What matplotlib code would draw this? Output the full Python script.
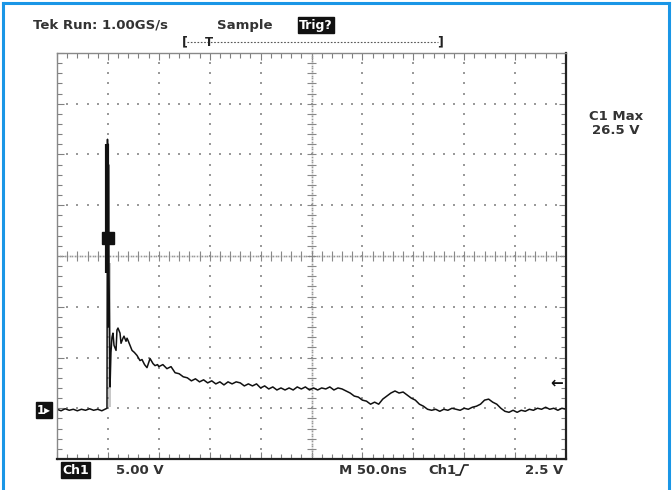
import numpy as np
import matplotlib.pyplot as plt

# scope settings (from screen text)
ns_per_div = 50.0
v_per_div = 5.0
trig_level = 2.5
v_max = 26.5

# trace: time (ns) / volts
t_ns = [0, 4, 8, 12, 16, 20, 24, 28, 32, 36, 40, 44, 47, 49.1,
        49.6, 50.1, 50.6, 51.1, 52.1, 53.0, 54.0, 55.0, 56.0, 58.0, 58.9, 59.9,
        61.9, 62.9, 64.8, 65.8, 67.8, 68.8, 69.7, 71.7, 73.7, 76.0, 78.6, 81.5,
        83.5, 86.0, 88.4, 91.4, 94.3, 96.3, 98.8,
        100, 104, 108, 112, 116, 120, 124, 128, 132, 136, 140, 144, 148, 152,
        156, 160, 164, 168, 172, 176, 180, 184, 188, 192, 196, 200, 204, 208,
        212, 216, 220, 224, 228, 232, 236, 240, 244, 248, 252, 256, 260, 264,
        268, 272, 276, 280, 284, 288, 292, 296, 300, 304, 308, 312, 316, 320,
        324, 328, 332, 336, 340, 344, 348, 352, 356, 360, 364, 368, 372, 376,
        380, 384, 388, 392, 396, 400, 404, 408, 412, 416, 420, 424, 428, 432,
        436, 440, 444, 448, 452, 456, 460, 464, 468, 472, 476, 480, 484, 488,
        492, 496, 500]
volts = [-0.1, -0.25, -0.05, -0.2, -0.1, -0.25, -0.1, -0.2, -0.05, -0.2, -0.1, -0.25, -0.1, 0.0,
         26.5, 8.0, 24.0, 13.3, 2.1, 5.5, 7.0, 7.4, 6.2, 5.7, 7.7, 7.9,
         7.4, 6.4, 6.9, 7.1, 6.6, 6.9, 6.7, 6.2, 5.7, 5.5, 5.2, 4.7,
         4.8, 4.3, 4.0, 4.9, 4.4, 4.2, 4.3,
         4.1, 4.3, 3.9, 4.1, 3.5, 3.4, 3.1, 3.0, 2.7, 2.9, 2.6, 2.8, 2.5, 2.7,
         2.4, 2.6, 2.3, 2.6, 2.4, 2.6, 2.5, 2.2, 2.4, 2.2, 2.4, 2.0, 2.2, 1.9,
         2.1, 1.8, 2.0, 1.8, 2.0, 1.8, 2.1, 1.9, 2.1, 1.8, 2.0, 1.8, 2.0, 1.9,
         2.1, 1.8, 2.0, 1.9, 1.7, 1.5, 1.2, 1.1, 0.8, 0.7, 0.4, 0.6, 0.4, 0.9,
         1.2, 1.5, 1.7, 1.5, 1.6, 1.3, 1.0, 0.8, 0.4, 0.2, -0.1, -0.2, -0.1, -0.3,
         -0.1, -0.2, 0.0, -0.1, -0.2, 0.0, -0.1, 0.1, 0.2, 0.4, 0.8, 0.9, 0.6, 0.4,
         0.0, -0.3, -0.4, -0.2, -0.4, -0.2, -0.3, -0.1, -0.2, 0.0, -0.1, 0.1, -0.1, 0.0,
         -0.2, 0.0, -0.1]

spike_t = 49.6
spike_thick = [13.3, 26.0]
glow_t = [50.1, 53.5]
glow_v = [0.1, 14.3]
marker_t = 50.1
marker_v = 16.8

fig = plt.figure(figsize=(6.72, 4.90), dpi=100)
ax = fig.add_axes([57 / 672, 31 / 490, 509 / 672, 406 / 490])
ax.set_xlim(0, 10 * ns_per_div)
ax.set_ylim(-1 * v_per_div, 7 * v_per_div)

# graticule
xmaj = np.arange(0, 501, ns_per_div)
ymaj = np.arange(-5, 36, v_per_div)
xmin = np.arange(0, 501, ns_per_div / 5)
ymin = np.arange(-5, 35.1, v_per_div / 5)
xc, yc = 250, 15
dot = '#9a9a9a'
for x in xmaj[1:-1]:
    if x == xc:
        continue
    ax.plot(np.full_like(ymin, x), ymin, ls='none', marker='s', ms=1.5, color=dot, mew=0)
for y in ymaj[1:-1]:
    if y == yc:
        continue
    ax.plot(xmin, np.full_like(xmin, y), ls='none', marker='s', ms=1.5, color=dot, mew=0)
# centre lines with ticks
ax.plot(np.arange(0, 501, 2.5), np.full(201, yc), ls='none', marker='s', ms=1.2, color=dot, mew=0)
ax.plot(np.full(161, xc), np.arange(-5, 35.1, 0.25), ls='none', marker='s', ms=1.2, color=dot, mew=0)
ax.vlines(xmin, yc - 0.45, yc + 0.45, color='#888888', lw=0.8)
ax.hlines(ymin, xc - 4, xc + 4, color='#888888', lw=0.8)

ax.set_xticks(xmaj)
ax.set_yticks(ymaj)
ax.set_xticks(xmin, minor=True)
ax.set_yticks(ymin, minor=True)
ax.tick_params(which='both', direction='in', top=True, right=True, bottom=True, left=True,
               labelbottom=False, labelleft=False, color='#808080', width=0.8)
ax.tick_params(which='major', length=5)
ax.tick_params(which='minor', length=3.5)
for s in ['top', 'left']:
    ax.spines[s].set_color('#888888')
    ax.spines[s].set_linewidth(1.0)
for s in ['bottom', 'right']:
    ax.spines[s].set_color('#222222')
    ax.spines[s].set_linewidth(1.6)

# trace
ax.fill_betweenx(glow_v, glow_t[0], glow_t[1], color='#c8c8c8', lw=0)
ax.plot(t_ns, volts, color='#111111', lw=1.1)
ax.vlines(spike_t, spike_thick[0], spike_thick[1], color='#111111', lw=3.0)
ax.plot(marker_t, marker_v, marker='s', ms=8.5, color='#111111')

# trigger level arrow
ax.text(497, trig_level, '\u2190', ha='right', va='center', fontsize=11, fontweight='bold',
        color='#111111')

# ground marker
fig.text(37 / 672, 1 - 410 / 490, '1\u25b8', ha='left', va='center', fontsize=8.5,
         fontweight='bold', color='white',
         bbox=dict(boxstyle='square,pad=0.12', fc='#111111', ec='#111111'))

txt = dict(fontsize=9.5, fontweight='bold', color='#333333', va='center')

# header
hy = 1 - 25 / 490
fig.text(33 / 672, hy, 'Tek Run: 1.00GS/s', ha='left', **txt)
fig.text(217 / 672, hy, 'Sample', ha='left', **txt)
fig.text(299 / 672, hy, 'Trig?', ha='left', va='center', fontsize=9, fontweight='bold',
         color='white', bbox=dict(boxstyle='square,pad=0.1', fc='#111111', ec='#111111'))

# record bar
by = 1 - 42 / 490
fig.add_artist(plt.Line2D([187 / 672, 438 / 672], [by, by], color='#555555', lw=0.8, ls=(0, (1.5, 1.5))))
fig.text(185 / 672, by, '[', ha='center', va='center', fontsize=9, fontweight='bold', color='#222222')
fig.text(440 / 672, by, ']', ha='center', va='center', fontsize=9, fontweight='bold', color='#222222')
fig.text(209 / 672, by - 0.002, 'T', ha='center', va='center', fontsize=8.5, fontweight='bold',
         color='#222222')

# measurement readout
fig.text(616 / 672, 1 - 117 / 490, 'C1 Max', ha='center', **txt)
fig.text(616 / 672, 1 - 130 / 490, '26.5 V', ha='center', **txt)

# footer
fy = 1 - 470 / 490
fig.text(62 / 672, fy, 'Ch1', ha='left', va='center', fontsize=9, fontweight='bold', color='white',
         bbox=dict(boxstyle='square,pad=0.1', fc='#111111', ec='#111111'))
fig.text(116 / 672, fy, '5.00 V', ha='left', **txt)
fig.text(339 / 672, fy, 'M 50.0ns', ha='left', **txt)
fig.text(428 / 672, fy, 'Ch1', ha='left', **txt)
edge_x = np.array([456, 460, 464, 468]) / 672
edge_y = 1 - np.array([475, 475, 465, 465]) / 490
fig.add_artist(plt.Line2D(edge_x, edge_y, color='#222222', lw=1.2))
fig.text(563 / 672, fy, '2.5 V', ha='right', **txt)

# blue frame
blue = '#1a96e6'
for xs, ys in [([3 / 672, 3 / 672], [0, 1 - 3 / 490]),
               ([3 / 672, 669 / 672], [1 - 3 / 490, 1 - 3 / 490]),
               ([669 / 672, 669 / 672], [0, 1 - 3 / 490])]:
    fig.add_artist(plt.Line2D(xs, ys, color=blue, lw=2.2))

fig.savefig('out.png', dpi=100)
